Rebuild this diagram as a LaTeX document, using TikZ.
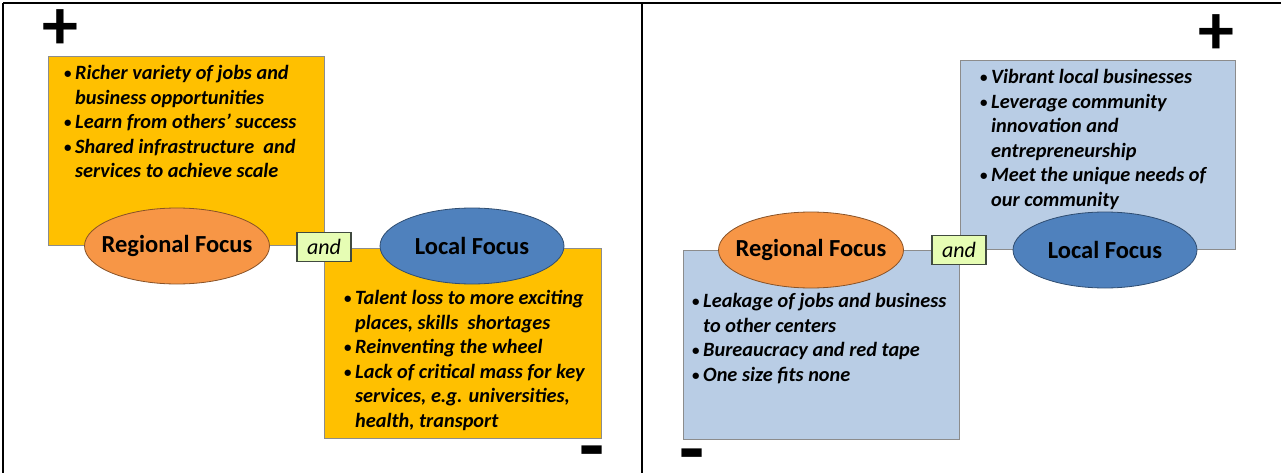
\documentclass[tikz,border=0pt]{standalone}
\usepackage{fontspec}
\setmainfont{Carlito}
\usetikzlibrary{positioning,shapes.geometric}
\definecolor{gold}{HTML}{FFC000}
\definecolor{paleblue}{HTML}{B9CDE5}
\definecolor{orangefill}{HTML}{F79646}
\definecolor{bluefill}{HTML}{4F81BD}
\definecolor{limefill}{HTML}{E6FDB4}
\definecolor{limedraw}{HTML}{404A40}
\newcommand{\pbullet}{\makebox[11pt][l]{\upshape\fontsize{15}{15}\selectfont\raisebox{1pt}{\textbullet}}}
\newcommand{\pindent}{\hspace*{11pt}}
\tikzset{
        goldbox/.style={rectangle, draw=black!45, line width=0.8pt, fill=gold, anchor=north west, inner sep=0pt},
        bluebox/.style={rectangle, draw=black!45, line width=0.8pt, fill=paleblue, anchor=north west, inner sep=0pt},
        regional/.style={ellipse, draw=orangefill!55!black, line width=0.8pt, fill=orangefill, inner ysep=0pt, inner xsep=-30pt,
          minimum width=185pt, minimum height=76pt, font=\fontsize{24.5}{24.5}\selectfont\bfseries},
        localfocus/.style={ellipse, draw=bluefill!60!black, line width=0.8pt, fill=bluefill, inner ysep=0pt, inner xsep=-30pt,
          minimum width=184pt, minimum height=76pt, font=\fontsize{24.5}{24.5}\selectfont\bfseries},
        joint/.style={rectangle, draw=limedraw, line width=1.8pt, fill=limefill, inner sep=0pt,
          minimum width=54pt, minimum height=29pt, font=\fontsize{22}{22}\selectfont\itshape},
        points/.style={inner sep=0pt, align=left, font=\fontsize{20.3}{24.6}\selectfont\bfseries\itshape},
        signtext/.style={inner sep=0pt, font=\fontsize{72}{72}\selectfont\bfseries},
        minustext/.style={inner sep=0pt, font=\fontsize{82}{82}\selectfont\bfseries},
        rule/.style={line width=2pt}
          }
\begin{document}
\begin{tikzpicture}[x=1pt, y=-1pt]
        \useasboundingbox (0,0) rectangle (1281,473);
        % table rules
        \draw[line width=1.2pt] (3,3) -- (1281,3);
        \draw[rule] (3,3) -- (3,473);
        \draw[rule] (642,3) -- (642,473);

        % left panel
        \node[goldbox, minimum width=276pt, minimum height=189pt] (ltop) at (48,56) {};
        \node[goldbox, minimum width=277pt, minimum height=190pt] (llow) at (324,248) {};
        \node[regional] (lreg) at (177,246) {Regional Focus};
        \node[localfocus] (lloc) at (472,246) {Local Focus};
        \node[joint] (land) at (324,247) {and};
        \node[points, below right=9pt and 16pt of ltop.north west] (ltoptext) {%
          \pbullet Richer variety of jobs and\\
          \pindent business opportunities\\
          \pbullet Learn from others’ success\\
          \pbullet Shared infrastructure\ \ and\\
          \pindent services to achieve scale};
        \node[points, below right=42pt and 20pt of llow.north west] (llowtext) {%
          \pbullet Talent loss to more exciting\\
          \pindent places, skills\ \ shortages\\
          \pbullet Reinventing the wheel\\
          \pbullet Lack of critical mass for key\\
          \pindent services, e.g. universities,\\
          \pindent health, transport};
        \node[signtext] (lplus) at (60,30) {+};
        \node[minustext] (lminus) at (592,460) {-};

        % right panel
        \node[bluebox, minimum width=275pt, minimum height=189pt] (rtop) at (960,60) {};
        \node[bluebox, minimum width=276pt, minimum height=189pt] (rlow) at (683,250) {};
        \node[regional] (rreg) at (811,250) {Regional Focus};
        \node[localfocus] (rloc) at (1105,250) {Local Focus};
        \node[joint] (rand) at (959,250) {and};
        \node[points, below right=9pt and 20pt of rtop.north west] (rtoptext) {%
          \pbullet Vibrant local businesses\\
          \pbullet Leverage community\\
          \pindent innovation and\\
          \pindent entrepreneurship\\
          \pbullet Meet the unique needs of\\
          \pindent our community};
        \node[points, below right=43pt and 9pt of rlow.north west] (rlowtext) {%
          \pbullet Leakage of jobs and business\\
          \pindent to other centers\\
          \pbullet Bureaucracy and red tape\\
          \pbullet One size fits none};
        \node[signtext] (rplus) at (1216,35) {+};
        \node[minustext] (rminus) at (692,463) {-};
\end{tikzpicture}
\end{document}
